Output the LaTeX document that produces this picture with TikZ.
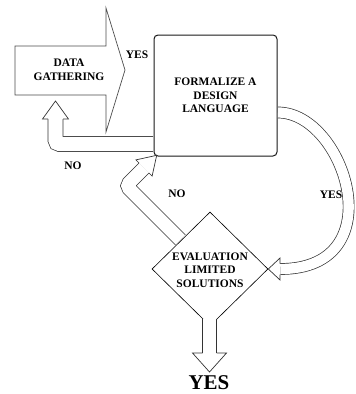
\documentclass[tikz,border=0pt]{standalone}
\usepackage{fontspec}
\setmainfont{Liberation Serif}
\usetikzlibrary{shapes.geometric}

\tikzset{
  flowtext/.style={font=\fontsize{11.5}{13.5}\selectfont\bfseries, align=center, inner sep=0pt},
  shaft/.style={draw=black!80, line width=0.7pt, double=white, double distance=#1},
  openhead/.style={draw=black!80, line width=0.7pt, fill=white, line join=miter},
}

\begin{document}
\begin{tikzpicture}[x=1pt,y=-1pt]
\useasboundingbox (0,0) rectangle (356,394);

% big arrow
\draw[openhead, draw=black!70] (15,46) -- (106,46) -- (106,8) -- (125,70) -- (106,132) -- (106,95) -- (15,95) -- cycle;
\node[flowtext] (data) at (69,70) {DATA\\GATHERING};
\node[flowtext] (yesA) at (137,55) {YES};

\node[draw=black!90, line width=1pt, rounded corners=4pt, fill=white, minimum width=123pt, minimum height=121pt, flowtext] (form) at (215.5,95.5) {FORMALIZE A\\DESIGN\\LANGUAGE};
\node[diamond, draw, line width=0.6pt, fill=white, minimum width=116pt, minimum height=114pt, inner sep=0pt] (eval) at (210,269) {};
\node[flowtext] (evaltext) at (210,270) {EVALUATION\\LIMITED\\SOLUTIONS};

% NO back to data gathering
\coordinate (noL0) at ([shift={(-0.5,48.5)}]form.west);
\coordinate (noL1) at (55.5,119);
\draw[shaft=14.3pt, rounded corners=4pt] (noL0) -| (noL1);
\draw[openhead] (48,119) -- (42.5,119) -- (55.5,101) -- (68.5,119) -- (63,119);
\node[flowtext] (noL) at (73,166) {NO};

% NO back to formalize
\coordinate (noM0) at ([shift={(-0.4,-0.4)}]eval.north west);
\coordinate (noM1) at (126.3,185.8);
\coordinate (noM2) at (144,168);
\draw[shaft=13.3pt, rounded corners=4pt] (noM0) -- (noM1) -- (noM2);
\draw[openhead] (148.9,172.9) -- (152.1,176.1) -- (156.7,155.3) -- (135.9,159.9) -- (139.1,163.1);
\node[flowtext] (noM) at (177,194) {NO};

% YES round to evaluation
\coordinate (yesR0) at ([shift={(0.5,17)}]form.east);
\coordinate (yesR1) at ([xshift=12pt]eval.east);
\draw[shaft=10.3pt] (yesR0) .. controls (345,112.5) and (395,269) .. (yesR1);
\draw[openhead] (280,274.5) -- (280,280) -- (eval.east) -- (280,258) -- (280,263.5);
\node[flowtext] (yesR) at (331,195) {YES};

% down to YES
\coordinate (down0) at ([shift={(-0.5,-7.5)}]eval.south);
\coordinate (down1) at (209.5,353);
\draw[shaft=13.3pt] (down0) -- (down1);
\draw[openhead] (202.5,353) -- (192.5,353) -- (209.5,372) -- (226.5,353) -- (216.5,353);
\node[font=\fontsize{21}{21}\selectfont\bfseries, anchor=base, inner sep=0pt] (yesEnd) at (209,389.5) {YES};
\end{tikzpicture}
\end{document}
